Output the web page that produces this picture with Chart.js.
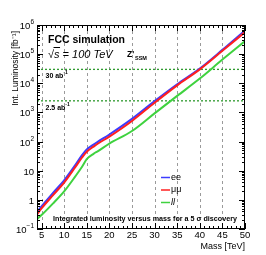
<!DOCTYPE html>
<html>
<head>
<meta charset="utf-8">
<script src="https://cdn.jsdelivr.net/npm/chart.js@4"></script>
<style>
  html, body { margin: 0; padding: 0; background: #fff; }
  #wrap { width: 266px; height: 255px; }
</style>
</head>
<body>
<div id="wrap"><canvas id="lumiChart" width="266" height="255"></canvas></div>
<script>
// values
const massTeV = [4, 5, 7.5, 10, 12.5, 14, 15, 16.5, 17.5, 20, 25, 30, 35, 40, 45, 50];
const lumiEE = [0.38, 0.6, 1.7, 4.7, 16, 35, 54, 79, 100, 175, 600, 2450, 9300, 32000, 140000, 650000];
const lumiMuMu = [0.32, 0.51, 1.43, 3.9, 13.5, 29, 45, 67, 86, 148, 510, 2150, 8500, 30000, 130000, 570000];
const lumiLL = [0.22, 0.30, 0.74, 1.95, 6.5, 14, 25, 38, 47, 85, 230, 930, 3700, 14500, 65000, 280000];

const refLumis = [2500, 30000];
const refLabels = ['2.5 ab', '30 ab'];

const xTicks = [5, 10, 15, 20, 25, 30, 35, 40, 45, 50];
const yDecades = [-1, 0, 1, 2, 3, 4, 5, 6];

const toPoints = ys => massTeV.map((m, i) => ({ x: m, y: ys[i] }));

const FONT = '"Liberation Sans", Arial, Helvetica, sans-serif';

const curve = (label, data, color, order) => ({
    label: label,
    data: toPoints(data),
    borderColor: color,
    borderWidth: 2,
    pointRadius: 0,
    cubicInterpolationMode: 'monotone',
    fill: false,
    order: order
});

const refLine = (value) => ({
    label: 'ref',
    data: [{ x: 4, y: value }, { x: 50, y: value }],
    borderColor: '#2f9a2f',
    borderWidth: 1.3,
    borderDash: [2, 2],
    pointRadius: 0,
    order: 5
});

// axes, frame, ticks, texts and legend in ROOT style
const rootFrame = {
    id: 'rootFrame',
    beforeDatasetsDraw(chart) {
        const { ctx, chartArea: a, scales } = chart;
        ctx.save();
        ctx.strokeStyle = '#9a9a9a';
        ctx.lineWidth = 1;
        ctx.setLineDash([3, 3]);
        xTicks.slice(0, -1).forEach(v => {
            const px = Math.round(scales.x.getPixelForValue(v)) + 0.5;
            ctx.beginPath();
            ctx.moveTo(px, a.top);
            ctx.lineTo(px, a.bottom);
            ctx.stroke();
        });
        ctx.restore();
    },
    afterDraw(chart) {
        const { ctx, chartArea: a, scales } = chart;
        const xs = scales.x, ys = scales.y;
        ctx.save();
        ctx.strokeStyle = '#000';
        ctx.lineWidth = 1;
        ctx.strokeRect(a.left + 0.5, a.top + 0.5, a.right - a.left - 1, a.bottom - a.top - 1);

        // x ticks (inside, bottom and top)
        ctx.beginPath();
        for (let v = 4; v <= 50; v++) {
            const px = Math.round(xs.getPixelForValue(v)) + 0.5;
            const len = v % 5 === 0 ? 6 : 3;
            ctx.moveTo(px, a.bottom); ctx.lineTo(px, a.bottom - len);
            ctx.moveTo(px, a.top); ctx.lineTo(px, a.top + len);
        }
        // y ticks (inside, left and right)
        yDecades.forEach(d => {
            for (let k = 1; k <= 9; k++) {
                const val = k * Math.pow(10, d);
                if (val > 1e6 * 1.0001) continue;
                const py = Math.round(ys.getPixelForValue(val)) + 0.5;
                const len = k === 1 ? 6 : 3;
                ctx.moveTo(a.left, py); ctx.lineTo(a.left + len, py);
                ctx.moveTo(a.right, py); ctx.lineTo(a.right - len, py);
            }
        });
        ctx.stroke();

        ctx.fillStyle = '#000';
        // x tick labels
        ctx.font = '9.5px ' + FONT;
        ctx.textAlign = 'center';
        ctx.textBaseline = 'middle';
        xTicks.forEach(v => ctx.fillText(String(v), xs.getPixelForValue(v), a.bottom + 6.5));
        ctx.textAlign = 'right';
        ctx.font = '9px ' + FONT;
        ctx.fillText('Mass [TeV]', a.right, a.bottom + 18);

        // y tick labels with superscripts
        yDecades.forEach(d => {
            const py = ys.getPixelForValue(Math.pow(10, d));
            const right = a.left - 3;
            ctx.textBaseline = 'alphabetic';
            if (d === 0 || d === 1) {
                ctx.font = '9.5px ' + FONT;
                ctx.textAlign = 'right';
                ctx.fillText(d === 0 ? '1' : '10', right, py + 4);
            } else {
                const sup = String(d).replace('-', '\u2212');
                ctx.font = '6.5px ' + FONT;
                const sw = ctx.measureText(sup).width;
                ctx.textAlign = 'left';
                ctx.fillText(sup, right - sw, py - 1);
                ctx.font = '9.5px ' + FONT;
                ctx.textAlign = 'right';
                ctx.fillText('10', right - sw, py + 4);
            }
        });

        // y axis title
        ctx.save();
        ctx.translate(16, a.top + 6);
        ctx.rotate(-Math.PI / 2);
        ctx.textAlign = 'right';
        ctx.textBaseline = 'middle';
        ctx.font = '8.5px ' + FONT;
        ctx.fillText('Int. Luminosity [fb\u207B\u00B9]', 0, 0);
        ctx.restore();

        // header texts
        ctx.textAlign = 'left';
        ctx.textBaseline = 'alphabetic';
        ctx.font = 'bold 10.5px ' + FONT;
        ctx.fillText('FCC simulation', a.left + 11, a.top + 17.5);
        ctx.font = 'italic 11px ' + FONT;
        const sx = a.left + 11, sy = a.top + 33;
        ctx.fillText('\u221As = 100 TeV', sx, sy);
        const rootW = ctx.measureText('\u221A').width;
        const sW = ctx.measureText('s').width;
        ctx.beginPath();
        ctx.moveTo(sx + rootW - 0.5, sy - 10.5);
        ctx.lineTo(sx + rootW + sW + 0.5, sy - 10.5);
        ctx.stroke();
        ctx.font = 'bold 8.5px ' + FONT;
        ctx.fillText("Z'", 127, sy - 1);
        ctx.font = 'bold 5.5px ' + FONT;
        ctx.fillText('SSM', 135, sy + 1.5);

        // reference line labels
        refLumis.forEach((v, i) => {
            const py = ys.getPixelForValue(v);
            ctx.font = 'bold 7px ' + FONT;
            ctx.fillText(refLabels[i], a.left + 8.5, py + 9);
            const w = ctx.measureText(refLabels[i]).width;
            ctx.font = 'bold 5px ' + FONT;
            ctx.fillText('-1', a.left + 8.5 + w, py + 5);
        });

        // legend
        const legendItems = chart.data.datasets.filter(ds => ds.label !== 'ref');
        ctx.font = '9px ' + FONT;
        ctx.textBaseline = 'middle';
        legendItems.forEach((ds, i) => {
            const ly = 177.5 + i * 12.5;
            ctx.strokeStyle = ds.borderColor;
            ctx.lineWidth = 1.5;
            ctx.beginPath();
            ctx.moveTo(161, ly);
            ctx.lineTo(170, ly);
            ctx.stroke();
            ctx.fillStyle = '#000';
            ctx.font = (ds.label === 'll' ? 'italic ' : '') + '9px ' + FONT;
            ctx.fillText(ds.label, 171, ly);
        });

        // caption
        ctx.textBaseline = 'middle';
        ctx.font = 'bold 7.5px ' + FONT;
        ctx.fillText('Integrated luminosity versus mass for a 5 \u03C3 discovery', a.left + 16, a.bottom - 10.5, 184);
        ctx.restore();
    }
};

new Chart(document.getElementById('lumiChart'), {
    type: 'line',
    data: {
        datasets: [
            curve('ee', lumiEE, '#3c3cff', 2),
            curve('\u03BC\u03BC', lumiMuMu, '#ff1f1f', 1),
            curve('ll', lumiLL, '#3fd23f', 3),
            refLine(refLumis[0]),
            refLine(refLumis[1])
        ]
    },
    options: {
        responsive: false,
        animation: false,
        devicePixelRatio: 1,
        layout: { padding: { left: 37, right: 21, top: 25, bottom: 26 } },
        plugins: {
            legend: { display: false },
            tooltip: { enabled: false }
        },
        scales: {
            x: { type: 'linear', min: 4, max: 50, display: false },
            y: { type: 'logarithmic', min: 0.1, max: 1e6, display: false }
        }
    },
    plugins: [rootFrame]
});
</script>
</body>
</html>
